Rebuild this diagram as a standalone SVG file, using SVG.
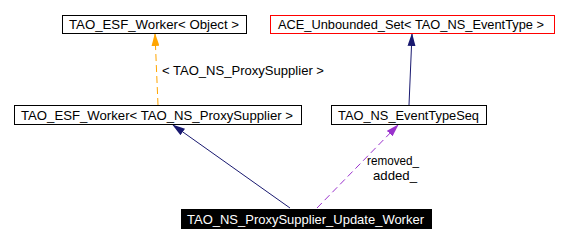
<svg xmlns="http://www.w3.org/2000/svg" width="566" height="243" viewBox="0 0 566 243">
<style>
  .box { fill: #ffffff; stroke: #000000; stroke-width: 1; }
  .box.red { stroke: #ff0000; }
  .lbl { font-family: "Liberation Sans", Arial, sans-serif; font-size: 13px; fill: #000000; }
  .inv { fill: #ffffff; }
  .edge { fill: none; stroke-width: 1; }
</style>
<defs>
  <marker id="arrNavy" markerWidth="13" markerHeight="8" refX="12" refY="4" orient="auto" markerUnits="userSpaceOnUse">
    <path d="M0,0 L13,4 L0,8 z" fill="#191970"/>
  </marker>
  <marker id="arrOrange" markerWidth="13" markerHeight="8" refX="12" refY="4" orient="auto" markerUnits="userSpaceOnUse">
    <path d="M0,0 L13,4 L0,8 z" fill="#ffa500"/>
  </marker>
  <marker id="arrPurple" markerWidth="13" markerHeight="8" refX="12" refY="4" orient="auto" markerUnits="userSpaceOnUse">
    <path d="M0,0 L13,4 L0,8 z" fill="#9a32cd"/>
  </marker>
</defs>
<rect width="566" height="243" fill="#ffffff"/>

<g id="connectors">
  <path class="edge" d="M158,105 L155,34" stroke="#ffa500" stroke-dasharray="7,4" marker-end="url(#arrOrange)"/>
  <text class="lbl" x="162" y="75" textLength="162" lengthAdjust="spacingAndGlyphs">&lt; TAO_NS_ProxySupplier &gt;</text>
  <path class="edge" d="M409,105 L412,34" stroke="#191970" marker-end="url(#arrNavy)"/>
  <path class="edge" d="M290,208 L173,125" stroke="#191970" marker-end="url(#arrNavy)"/>
  <path class="edge" d="M317,208 L398,125" stroke="#9a32cd" stroke-dasharray="7,4" marker-end="url(#arrPurple)"/>
  <text class="lbl" x="367" y="165" textLength="52" lengthAdjust="spacingAndGlyphs">removed_</text>
  <text class="lbl" x="373" y="180" textLength="44" lengthAdjust="spacingAndGlyphs">added_</text>
</g>

<g id="worker_object">
  <rect class="box" x="62.5" y="15.5" width="184" height="18"/>
  <text class="lbl" x="69" y="29" textLength="170" lengthAdjust="spacingAndGlyphs">TAO_ESF_Worker&lt; Object &gt;</text>
</g>

<g id="unbounded_set">
  <rect class="box red" x="270.5" y="15.5" width="284" height="18"/>
  <text class="lbl" x="278" y="29" textLength="266" lengthAdjust="spacingAndGlyphs">ACE_Unbounded_Set&lt; TAO_NS_EventType &gt;</text>
</g>

<g id="worker_proxysupplier">
  <rect class="box" x="14.5" y="105.5" width="287" height="19"/>
  <text class="lbl" x="21" y="120" textLength="272" lengthAdjust="spacingAndGlyphs">TAO_ESF_Worker&lt; TAO_NS_ProxySupplier &gt;</text>
</g>

<g id="eventtypeseq">
  <rect class="box" x="331.5" y="105.5" width="155" height="19"/>
  <text class="lbl" x="338" y="120" textLength="141" lengthAdjust="spacingAndGlyphs">TAO_NS_EventTypeSeq</text>
</g>

<g id="update_worker">
  <rect x="181" y="209" width="251" height="20" fill="#000000"/>
  <text class="lbl inv" x="187" y="224" textLength="237" lengthAdjust="spacingAndGlyphs">TAO_NS_ProxySupplier_Update_Worker</text>
</g>
</svg>
